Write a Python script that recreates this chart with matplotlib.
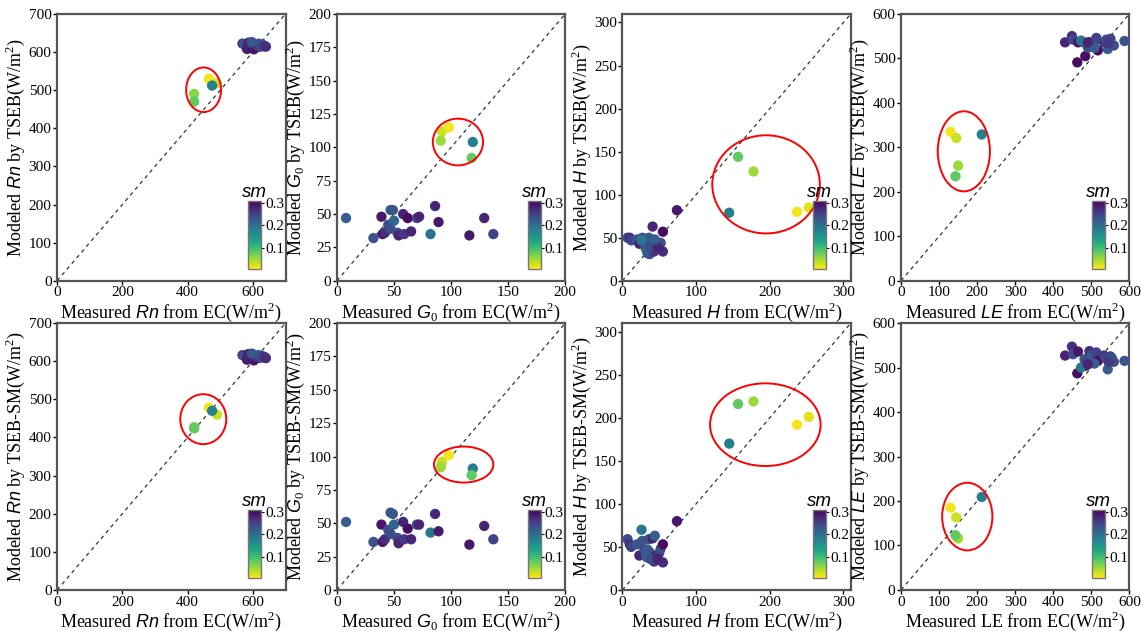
import matplotlib
matplotlib.use("Agg")
import matplotlib.pyplot as plt
from matplotlib.patches import Ellipse

plt.rcParams["font.family"] = "Liberation Serif"
plt.rcParams["mathtext.fontset"] = "custom"
plt.rcParams["mathtext.rm"] = "Liberation Serif"
plt.rcParams["mathtext.it"] = "Liberation Sans:italic"

# net radiation Rn (W/m2): 24 clustered days + 5 low-sm days
rn_meas = [568, 575, 582, 588, 590, 595, 598, 600, 603, 605, 607, 610, 612, 615, 618, 620,
           622, 625, 628, 632, 636, 640, 585, 597, 465, 490, 420, 475, 420]
rn_tseb = [622, 620, 608, 625, 615, 618, 610, 622, 607, 615, 620, 612, 618, 616, 622, 614,
           618, 615, 620, 615, 616, 614, 623, 626, 530, 518, 490, 512, 470]
rn_tsebsm = [616, 614, 604, 619, 610, 612, 606, 617, 602, 610, 615, 607, 612, 611, 616, 609,
             612, 610, 614, 610, 611, 608, 618, 620, 478, 460, 427, 470, 424]
sm_rn = [0.25, 0.23, 0.29, 0.22, 0.26, 0.28, 0.30, 0.24, 0.29, 0.27, 0.23, 0.30, 0.25, 0.24,
         0.22, 0.27, 0.26, 0.24, 0.23, 0.25, 0.26, 0.27, 0.28, 0.23, 0.01, 0.03, 0.06, 0.18, 0.08]

# soil heat flux G0
g0_meas = [8, 32, 39, 40, 42, 45, 47, 47, 49, 50, 53, 54, 58, 59, 62, 65, 70, 72, 82, 86,
           89, 116, 129, 137, 92, 98, 91, 119, 118]
g0_tseb = [47, 32, 48, 35, 36, 42, 39, 53, 53, 45, 36, 34, 50, 35, 47, 37, 47, 48, 35, 56,
           44, 34, 47, 35, 112, 115, 105, 104, 92]
g0_tsebsm = [51, 36, 49, 36, 38, 45, 42, 58, 57, 49, 39, 35, 51, 38, 46, 38, 49, 49, 43, 57,
             44, 34, 48, 38, 96, 101, 92, 91, 86]
sm_g0 = [0.22, 0.23, 0.29, 0.29, 0.27, 0.24, 0.24, 0.22, 0.23, 0.21, 0.24, 0.28, 0.28, 0.26,
         0.30, 0.28, 0.24, 0.28, 0.19, 0.28, 0.29, 0.29, 0.28, 0.25, 0.03, 0.01, 0.05, 0.18, 0.08]

# sensible heat flux H
h_meas = [7, 10, 12, 20, 23, 27, 36, 30, 32, 34, 37, 41, 43, 46, 50, 52, 55, 55, 26, 74,
          33, 38, 48, 44, 237, 253, 178, 145, 157]
h_tseb = [50, 50, 47, 48, 43, 50, 50, 43, 37, 32, 31, 63, 34, 40, 42, 44, 57, 34, 47, 82,
          38, 39, 39, 48, 80, 85, 127, 79, 144]
h_tsebsm = [59, 53, 50, 53, 40, 57, 59, 47, 40, 47, 44, 60, 33, 40, 43, 48, 53, 32, 70, 80,
            38, 36, 36, 63, 192, 201, 219, 170, 216]
sm_h = [0.24, 0.27, 0.25, 0.23, 0.28, 0.23, 0.23, 0.24, 0.22, 0.22, 0.23, 0.28, 0.26, 0.29,
        0.25, 0.24, 0.30, 0.27, 0.19, 0.29, 0.22, 0.24, 0.28, 0.22, 0.01, 0.02, 0.05, 0.18, 0.08]

# latent heat flux LE
le_meas = [431, 449, 452, 465, 463, 482, 484, 491, 495, 501, 507, 513, 517, 533, 539, 543,
           550, 554, 473, 559, 587, 545, 508, 491, 130, 145, 150, 212, 143]
le_tseb = [536, 550, 542, 536, 491, 535, 505, 524, 536, 531, 536, 546, 518, 536, 542, 521,
           544, 531, 540, 529, 539, 534, 524, 536, 335, 321, 259, 329, 235]
le_tsebsm = [527, 547, 530, 536, 487, 519, 504, 519, 537, 528, 512, 534, 515, 527, 521, 496,
             525, 521, 500, 513, 515, 513, 509, 507, 185, 163, 116, 209, 123]
sm_le = [0.28, 0.27, 0.24, 0.29, 0.30, 0.23, 0.30, 0.24, 0.27, 0.22, 0.24, 0.25, 0.30, 0.26,
         0.24, 0.22, 0.25, 0.23, 0.19, 0.24, 0.23, 0.26, 0.22, 0.28, 0.01, 0.03, 0.05, 0.18, 0.08]

# variable name, axis limit, x ticks, y ticks
variables = [
    ("$Rn$", 700, range(0, 701, 200), range(0, 701, 100)),
    ("$G_0$", 200, range(0, 201, 50), range(0, 201, 25)),
    ("$H$", 310, range(0, 301, 100), range(0, 301, 50)),
    ("$LE$", 600, range(0, 601, 100), range(0, 601, 100)),
]
measured = [rn_meas, g0_meas, h_meas, le_meas]
modeled = [[rn_tseb, g0_tseb, h_tseb, le_tseb],
           [rn_tsebsm, g0_tsebsm, h_tsebsm, le_tsebsm]]
soil_moisture = [sm_rn, sm_g0, sm_h, sm_le]
models = ["TSEB", "TSEB-SM"]

# red ellipses: (centre x, centre y, width, height) in data units
ellipses = [
    [(449, 501, 107, 117), (106, 104, 44, 35), (195, 112, 146, 114), (165, 291, 137, 180)],
    [(448, 448, 141, 131), (111, 94, 52, 27), (194, 192, 150, 96), (174, 165, 132, 152)],
]

fig = plt.figure(figsize=(11.42, 6.31), dpi=100)
lefts = [0.050, 0.295, 0.545, 0.789]
bottoms = [0.555, 0.065]
w, h = 0.200, 0.423

for r, model in enumerate(models):
    for c, (name, lim, xt, yt) in enumerate(variables):
        ax = fig.add_axes([lefts[c], bottoms[r], w, h])
        ax.plot([0, lim], [0, lim], color="#333333", ls=(0, (3, 3)), lw=0.9, zorder=1)
        sc = ax.scatter(measured[c], modeled[r][c], c=soil_moisture[c], cmap="viridis_r",
                        vmin=0.005, vmax=0.31, s=55, edgecolors="none", zorder=3)
        ex, ey, ew, eh = ellipses[r][c]
        ax.add_patch(Ellipse((ex, ey), ew, eh, fill=False, edgecolor="red", lw=1.4, zorder=4))
        ax.set_xlim(0, lim)
        ax.set_ylim(0, lim)
        ax.set_xticks(list(xt))
        ax.set_yticks(list(yt))
        ax.tick_params(labelsize=11, length=3, width=1, direction="out", pad=1)
        for sp in ax.spines.values():
            sp.set_linewidth(1.6)
            sp.set_color("#555555")
        xname = "LE" if (r == 1 and c == 3) else name
        ax.set_xlabel(f"Measured {xname} from EC(W/m$^2$)", fontsize=13, labelpad=1)
        ax.set_ylabel(f"Modeled {name} by {model}(W/m$^2$)", fontsize=13, labelpad=1)

        cax = ax.inset_axes([0.835, 0.045, 0.057, 0.255])
        cb = fig.colorbar(sc, cax=cax, ticks=[0.1, 0.2, 0.3])
        cb.ax.tick_params(labelsize=11, length=2, pad=1)
        cb.outline.set_edgecolor("#777777")
        cb.outline.set_linewidth(1)
        cax.set_title("sm", fontsize=13.5, style="italic", family="Liberation Sans", pad=2)

fig.savefig("out.png", dpi=100)
